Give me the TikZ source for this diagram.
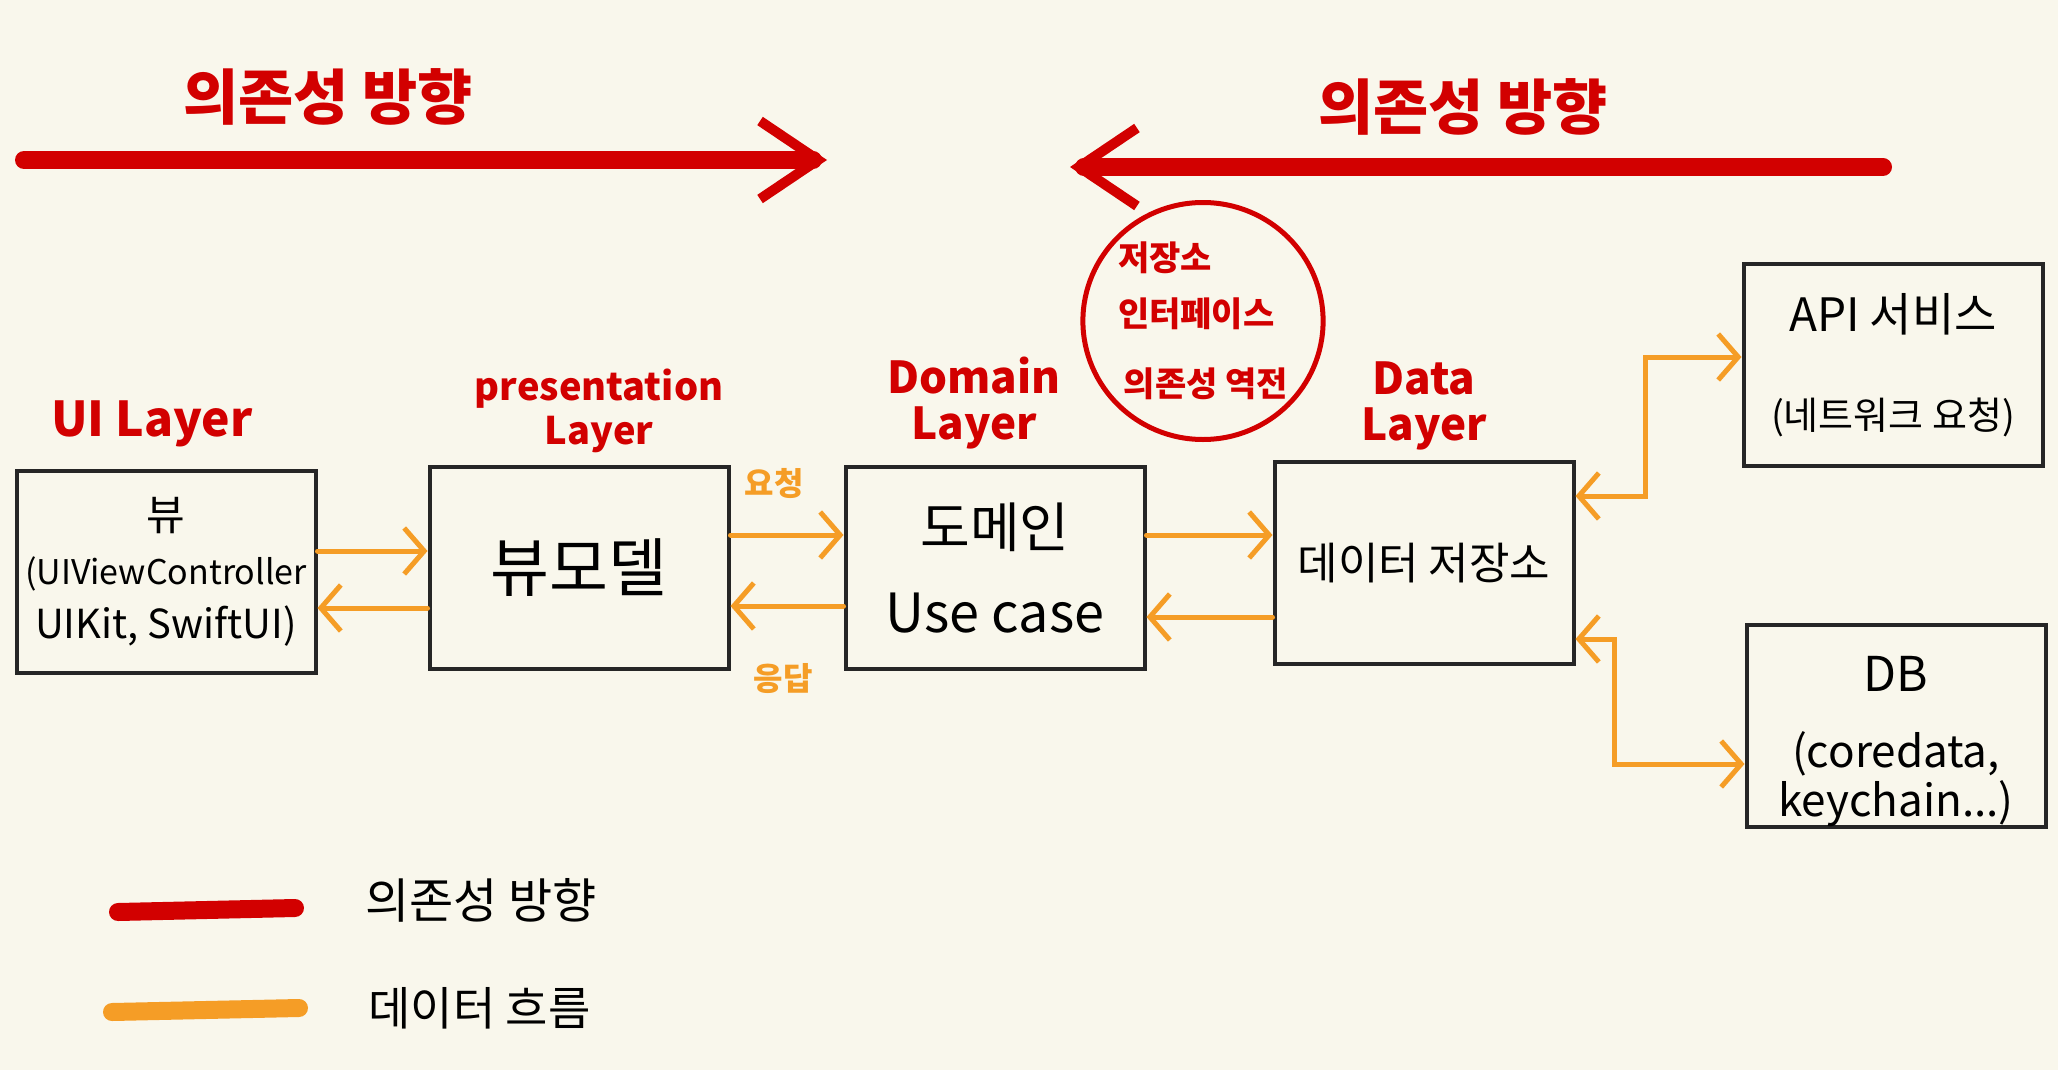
\documentclass[tikz,border=0pt]{standalone}
\usepackage{fontspec}
\setmainfont{Noto Sans CJK KR}
\usetikzlibrary{shapes.geometric, arrows.meta, positioning}
\definecolor{papel}{RGB}{249,247,236}
\definecolor{rojodep}{RGB}{210,0,0}
\definecolor{naranja}{RGB}{245,157,38}
\definecolor{tinta}{RGB}{38,38,38}
\tikzset{
  caja/.style={rectangle, draw=tinta, line width=4pt, minimum width=299pt,
    minimum height=202pt, align=center, inner sep=0pt,
    font=\fontsize{44pt}{52pt}\selectfont},
  capa/.style={text=rojodep, align=center, inner sep=0pt,
    font=\fontsize{44pt}{46pt}\selectfont\bfseries},
  titulo/.style={text=rojodep, font=\fontsize{60pt}{64pt}\selectfont\bfseries},
  dep/.style={draw=rojodep, line width=18pt, line cap=round},
  depflecha/.style={dep, -{Straight Barb[length=58pt, width=78pt, line width=10pt]}},
  flujo/.style={draw=naranja, line width=5pt, line cap=round,
    -{Straight Barb[length=20pt, width=46pt, line width=5pt]}},
  flujo2/.style={flujo, {Straight Barb[length=20pt, width=46pt, line width=5pt]}-{Straight Barb[length=20pt, width=46pt, line width=5pt]}},
  etiq/.style={text=naranja, font=\fontsize{32pt}{34pt}\selectfont\bfseries},
  leyenda/.style={anchor=west, font=\fontsize{48pt}{50pt}\selectfont}
}
\begin{document}
\begin{tikzpicture}[x=1pt, y=-1pt, node distance=12pt]
  \fill[papel] (0,0) rectangle (2058,1070);
  \useasboundingbox (0,0) rectangle (2058,1070);
  % direction of dependency
  \coordinate (izq0) at (24,160);
  \coordinate (izq1) at (827,160);
  \coordinate (der0) at (1883,167);
  \coordinate (der1) at (1070,167);
  \draw[depflecha] (izq0) -- (izq1);
  \draw[depflecha] (der0) -- (der1);
  \node[titulo] (tizq) at (328,97) {의존성 방향};
  \node[titulo] (tder) at (1463,107) {의존성 방향};
  % layers
  \node[caja, font=\fontsize{34pt}{54pt}\selectfont] (ui) at (166,572)
    {\fontsize{42pt}{54pt}\selectfont 뷰\\(UIViewController\\\fontsize{40pt}{54pt}\selectfont UIKit, SwiftUI)};
  \node[caja, right=110pt of ui, yshift=4pt, font=\fontsize{64pt}{70pt}\selectfont] (vm) {뷰모델};
  \node[caja, right=113pt of vm, font=\fontsize{54pt}{85pt}\selectfont] (dom) {도메인\\Use case};
  \node[caja, right=126pt of dom, yshift=5pt] (data) {데이터 저장소};
  \node[caja, font=\fontsize{38pt}{98pt}\selectfont] (api) at (1893,365)
    {\fontsize{46pt}{98pt}\selectfont API 서비스\\(네트워크 요청)};
  \node[caja, font=\fontsize{44pt}{49pt}\selectfont] (db) at (1896,726)
    {\fontsize{48pt}{49pt}\selectfont DB\\[27pt](coredata,\\keychain...)\\[-70pt]};
  \node[capa, above=22pt of ui, xshift=-14pt, font=\fontsize{48pt}{50pt}\selectfont\bfseries] (uicap) {UI Layer};
  \node[capa, above=12pt of vm, xshift=20pt, font=\fontsize{38pt}{44pt}\selectfont\bfseries] (vmcap) {presentation\\Layer};
  \node[capa, above=16pt of dom, xshift=-21pt] (domcap) {Domain\\Layer};
  \node[capa, above=10pt of data] (datacap) {Data\\Layer};
  % repository interface
  \node[ellipse, draw=rojodep, line width=5pt, minimum width=240pt,
    minimum height=237pt, inner sep=0pt, align=left, text=rojodep,
    font=\fontsize{34pt}{56pt}\selectfont\bfseries] (inv) at (1203,321)
    {저장소\\인터페이스\\[14pt]\,의존성 역전};
  % data flow
  \draw[flujo] ([yshift=21pt]ui.east) -- ([yshift=17pt]vm.west);
  \draw[flujo] ([yshift=-40pt]vm.west) -- ([yshift=-36pt]ui.east);
  \draw[flujo] ([yshift=33pt]vm.east) -- ([yshift=33pt]dom.west);
  \draw[flujo] ([yshift=-38pt]dom.west) -- ([yshift=-38pt]vm.east);
  \draw[flujo] ([yshift=33pt]dom.east) -- ([yshift=28pt]data.west);
  \draw[flujo] ([yshift=-54pt]data.west) -- ([yshift=-49pt]dom.east);
  \node[etiq] (req) at (774,483) {요청};
  \node[etiq] (resp) at (783,679) {응답};
  \draw[flujo2] ([yshift=67pt]data.east) -- ++(70pt,0) |- ([yshift=8pt]api.west);
  \draw[flujo2] ([yshift=-76pt]data.east) -- ++(39pt,0) |- ([yshift=-38pt]db.west);
  % legend
  \coordinate (ley1a) at (118,912);
  \coordinate (ley1b) at (295,908);
  \coordinate (ley2a) at (112,1012);
  \coordinate (ley2b) at (299,1008);
  \draw[dep] (ley1a) -- (ley1b);
  \draw[dep, draw=naranja] (ley2a) -- (ley2b);
  \node[leyenda] (ley1) at (362,900) {의존성 방향};
  \node[leyenda, font=\fontsize{46pt}{50pt}\selectfont] (ley2) at (365,1008) {데이터 흐름};
\end{tikzpicture}
\end{document}
